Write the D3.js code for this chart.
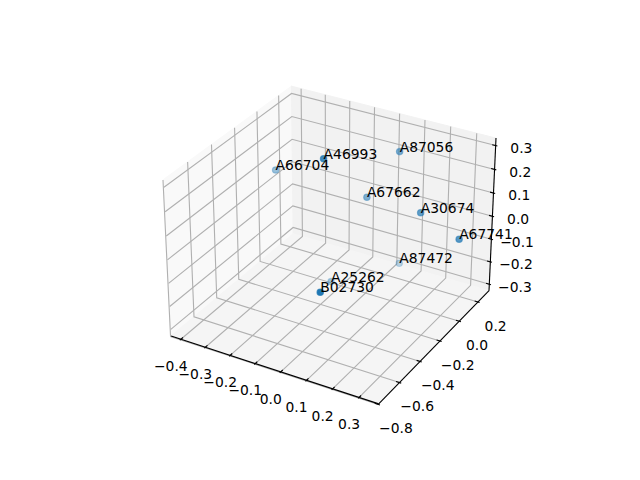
<!DOCTYPE html><html><head><meta charset="utf-8"><script src="https://cdnjs.cloudflare.com/ajax/libs/d3/7.8.5/d3.min.js"></script></head><body style="margin:0;background:#fff"><svg id="s" width="640" height="480" style="display:block"></svg><script>
const names=["A66704","A46993","A87056","A67662","A30674","A67741","A87472","A25262","B02730"];
const xs=[-0.362,-0.044,0.064,-0.016,0.220,0.375,0.037,-0.116,0.123];
const ys=[-0.012,-0.298,0.163,0.045,-0.021,-0.039,0.251,-0.060,-0.723];
const zs=[0.107,0.349,0.244,0.070,0.100,0.043,-0.286,-0.291,0.019];
const xTicks=[-0.4,-0.3,-0.2,-0.1,0,0.1,0.2,0.3];
const yTicks=[-0.8,-0.6,-0.4,-0.2,0,0.2];
const zTicks=[-0.3,-0.2,-0.1,0,0.1,0.2,0.3];
const xlim=[-0.424,0.357],ylim=[-0.773,0.299],zlim=[-0.316,0.318];

const K=1.8294640721620434,bw=K*4/Math.sqrt(41),bh=K*3/Math.sqrt(41);
const sx=d3.scaleLinear(xlim,[0,bw]),sy=d3.scaleLinear(ylim,[0,bw]),sz=d3.scaleLinear(zlim,[0,bh]);
const sX=d3.scaleLinear([-0.095,0.09],[143.2,512.8]),sY=d3.scaleLinear([-0.095,0.09],[427.2,57.6]);
const el=30*Math.PI/180,az=-60*Math.PI/180,R=[bw/2,bw/2,bh/2];
const w=[Math.cos(el)*Math.cos(az),Math.cos(el)*Math.sin(az),Math.sin(el)];
const cross=(p,q)=>[p[1]*q[2]-p[2]*q[1],p[2]*q[0]-p[0]*q[2],p[0]*q[1]-p[1]*q[0]];
const dot=(p,q)=>p[0]*q[0]+p[1]*q[1]+p[2]*q[2];
let u=cross([0,0,1],w);const un=Math.hypot(...u);u=u.map(d=>d/un);const v=cross(w,u);
const eye=R.map((r,i)=>r+10*w[i]);
function toBox(p){return [sx(p[0]),sy(p[1]),sz(p[2])];}
function project(p){const q=toBox(p).map((d,i)=>d-eye[i]);const s=-dot(q,w);return [sX(dot(q,u)/s),sY(dot(q,v)/s)];}
const depth=p=>dot(toBox(p).map((d,i)=>d-R[i]),w);

const dx=(xlim[1]-xlim[0])/12,dy=(ylim[1]-ylim[0])/12,dz=(zlim[1]-zlim[0])/12;
const x0=xlim[0]-dx/4,x1=xlim[1]+dx/4,y0=ylim[0]-dy/4,y1=ylim[1]+dy/4,z0=zlim[0]-dz/4,z1=zlim[1]+dz/4;

const svg=d3.select("#s");
const line=d3.line();
const path=(pts)=>line(pts.map(project));
const F="'DejaVu Sans'",FS=13.89,LW=1.11;
const panes=[
 {c:[[x0,y0,z0],[x0,y1,z0],[x0,y1,z1],[x0,y0,z1]],f:"#f9f9f9"},
 {c:[[x0,y1,z0],[x1,y1,z0],[x1,y1,z1],[x0,y1,z1]],f:"#f2f2f2"},
 {c:[[x0,y0,z0],[x1,y0,z0],[x1,y1,z0],[x0,y1,z0]],f:"#f5f5f5"}];
svg.append("g").selectAll("path").data(panes).join("path").attr("d",d=>path(d.c)+"Z").attr("fill",d=>d.f).attr("stroke",d=>d.f).attr("stroke-width",LW);
const grid=svg.append("g").attr("fill","none").attr("stroke","#b0b0b0").attr("stroke-width",LW);
grid.selectAll(".gx").data(xTicks).join("path").attr("class","gx").attr("d",t=>path([[t,y0,z0],[t,y1,z0],[t,y1,z1]]));
grid.selectAll(".gy").data(yTicks).join("path").attr("class","gy").attr("d",t=>path([[x1,t,z0],[x0,t,z0],[x0,t,z1]]));
grid.selectAll(".gz").data(zTicks).join("path").attr("class","gz").attr("d",t=>path([[x1,y1,t],[x0,y1,t],[x0,y0,t]]));
const ax=svg.append("g").attr("stroke","#000").attr("stroke-width",LW).attr("fill","none");
ax.append("path").attr("d",path([[x0,y0,z0],[x1,y0,z0]]));
ax.append("path").attr("d",path([[x1,y0,z0],[x1,y1,z0]]));
ax.append("path").attr("d",path([[x1,y1,z0],[x1,y1,z1]]));
const fmt=d=>(d<0?"\u2212":"")+Math.abs(d).toFixed(1);
const axes=[
 {ticks:xTicks,a:t=>[t,y0+.2*dy,z0],b:t=>[t,y0-.1*dy,z0],off:[-9,26]},
 {ticks:yTicks,a:t=>[x1-.2*dx,t,z0],b:t=>[x1+.1*dx,t,z0],off:[16,23]},
 {ticks:zTicks,a:t=>[x1-.2*dx,y1,t],b:t=>[x1+.1*dx,y1,t],off:[24,2]}];
axes.forEach(A=>{
 ax.selectAll(null).data(A.ticks).join("path").attr("d",t=>path([A.a(t),A.b(t)]));
 svg.append("g").selectAll("text").data(A.ticks).join("text").attr("text-anchor","middle").attr("font-family",F).attr("font-size",FS).attr("fill","#000")
  .attr("x",t=>project(A.b(t))[0]+A.off[0]).attr("y",t=>project(A.b(t))[1]+A.off[1]+5).text(fmt);
});
const pts=names.map((n,i)=>({n,p:[xs[i],ys[i],zs[i]]}));
const alpha=d3.scaleLinear(d3.extent(pts,d=>depth(d.p)),[0.3,1]);
const sorted=pts.slice().sort((a,b)=>depth(a.p)-depth(b.p));
svg.append("g").selectAll("circle").data(sorted).join("circle").attr("cx",d=>project(d.p)[0]).attr("cy",d=>project(d.p)[1]).attr("r",3.2)
 .attr("fill","#1f77b4").attr("stroke","#1f77b4").attr("stroke-width",1.2).attr("fill-opacity",d=>alpha(depth(d.p))).attr("stroke-opacity",d=>alpha(depth(d.p))*0.7);
svg.append("g").selectAll("text").data(pts).join("text").attr("x",d=>project(d.p)[0]).attr("y",d=>project(d.p)[1]).attr("font-family",F).attr("font-size",FS).attr("fill","#000").text(d=>d.n);
</script></body></html>
